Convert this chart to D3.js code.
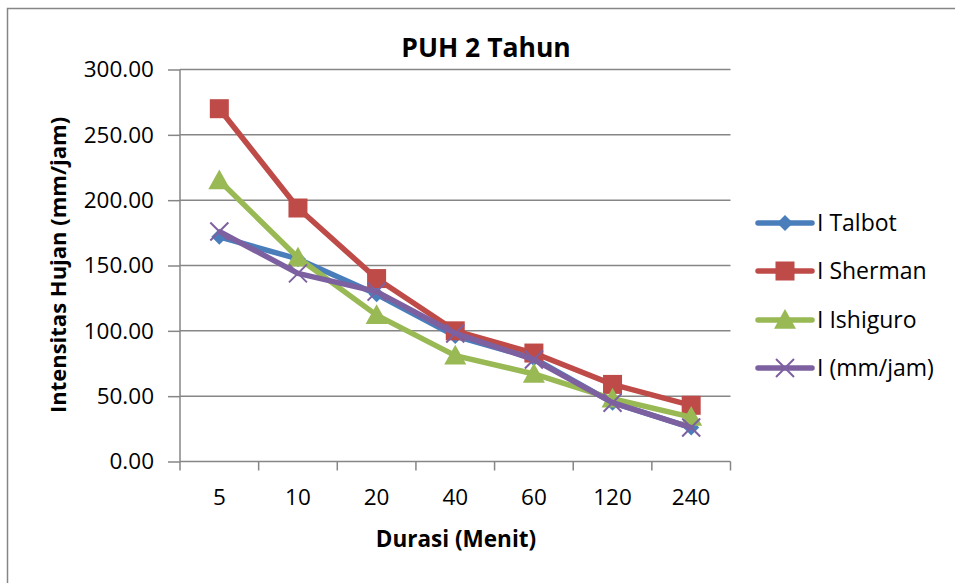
<!DOCTYPE html>
<html>
<head>
<meta charset="utf-8">
<script src="https://cdn.jsdelivr.net/npm/d3@7/dist/d3.min.js"></script>
<style>
  html, body { margin: 0; padding: 0; background: #fff; }
  svg { display: block; }
  text { font-family: "Open Sans", "Liberation Sans", sans-serif; fill: #000; }
</style>
</head>
<body>
<svg id="chart" width="955" height="583"></svg>
<script>
// Durasi (menit) categories
const durations = ["5", "10", "20", "40", "60", "120", "240"];

// Intensitas hujan (mm/jam) per method
const talbot   = [172, 155, 128, 96, 79, 45, 26];
const sherman  = [270, 194, 140, 100, 83, 59, 43];
const ishiguro = [215, 156, 112, 81, 67, 48, 34];
const observed = [176, 144, 130, 98, 78, 45, 26];

const seriesNames = ["I Talbot", "I Sherman", "I Ishiguro", "I (mm/jam)"];
const yTicks = [0, 50, 100, 150, 200, 250, 300];

const series = [
  { name: seriesNames[0], values: talbot,   color: "#4A7EBB", marker: "diamond" },
  { name: seriesNames[1], values: sherman,  color: "#BE4B48", marker: "square" },
  { name: seriesNames[2], values: ishiguro, color: "#98B954", marker: "triangle" },
  { name: seriesNames[3], values: observed, color: "#7D60A0", marker: "x" }
];

const svg = d3.select("#chart");
const W = 955, H = 583;
const plot = { left: 180, top: 69.5, right: 730.5, bottom: 461.5 };

// chart frame
svg.append("rect")
  .attr("x", 7.5).attr("y", 8.5)
  .attr("width", W + 10).attr("height", H + 10)
  .attr("fill", "#fff").attr("stroke", "#868686").attr("stroke-width", 1.5);

const x = d3.scaleBand().domain(durations).range([plot.left, plot.right]).padding(0);
const y = d3.scaleLinear().domain([0, 300]).range([plot.bottom, plot.top]);

// horizontal gridlines
svg.append("g").selectAll("line").data(yTicks.filter(d => d > 0)).join("line")
  .attr("x1", plot.left).attr("x2", plot.right)
  .attr("y1", d => y(d)).attr("y2", d => y(d))
  .attr("stroke", "#868686").attr("stroke-width", 1.5);

// y axis
const yAxis = svg.append("g").attr("transform", `translate(${plot.left},0)`)
  .call(d3.axisLeft(y).tickValues(yTicks).tickFormat(d3.format(".2f")).tickSize(12).tickPadding(14));
yAxis.select(".domain").attr("stroke", "#868686").attr("stroke-width", 1.5).attr("d", `M0,${plot.top}V${plot.bottom}`);
yAxis.selectAll(".tick line").attr("stroke", "#868686").attr("stroke-width", 1.5);
yAxis.selectAll(".tick text").style("font-size", "22.5px").style("font-family", "\"Open Sans\", sans-serif").attr("fill", "#000");

// x axis with tick marks on category boundaries
const xAxisG = svg.append("g").attr("transform", `translate(0,${plot.bottom})`);
xAxisG.append("line")
  .attr("x1", plot.left).attr("x2", plot.right)
  .attr("stroke", "#868686").attr("stroke-width", 1.5);
const boundaries = durations.map(d => x(d)).concat([x(durations[durations.length - 1]) + x.bandwidth()]);
xAxisG.selectAll("line.tk").data(boundaries).join("line").attr("class", "tk")
  .attr("x1", d => d).attr("x2", d => d).attr("y1", 0).attr("y2", 9)
  .attr("stroke", "#868686").attr("stroke-width", 1.5);
xAxisG.selectAll("text").data(durations).join("text")
  .attr("x", d => x(d) + x.bandwidth() / 2).attr("y", 43)
  .attr("text-anchor", "middle").style("font-size", "22.5px")
  .text(d => d);

// titles
svg.append("text").attr("x", 486).attr("y", 57).attr("text-anchor", "middle")
  .style("font-size", "26.5px").style("font-weight", "bold").text("PUH 2 Tahun");
svg.append("text").attr("x", 456).attr("y", 547).attr("text-anchor", "middle")
  .style("font-size", "22.5px").style("font-weight", "bold").text("Durasi (Menit)");
svg.append("text").attr("transform", "translate(66,265) rotate(-90)").attr("text-anchor", "middle")
  .style("font-size", "22px").style("font-weight", "bold").text("Intensitas Hujan (mm/jam)");

function drawMarker(g, type, color, cx, cy, scale = 1) {
  if (type === "diamond") {
    const r = 8 * scale;
    g.append("path").attr("d", `M${cx},${cy - r}L${cx + r},${cy}L${cx},${cy + r}L${cx - r},${cy}Z`).attr("fill", color);
  } else if (type === "square") {
    const s = 19 * scale;
    g.append("rect").attr("x", cx - s / 2).attr("y", cy - s / 2).attr("width", s).attr("height", s).attr("fill", color);
  } else if (type === "triangle") {
    const r = 11 * scale;
    g.append("path").attr("d", `M${cx},${cy - r}L${cx + r},${cy + r * 0.8}L${cx - r},${cy + r * 0.8}Z`).attr("fill", color);
  } else if (type === "x") {
    const r = 9 * scale;
    g.append("path").attr("d", `M${cx - r},${cy - r}L${cx + r},${cy + r}M${cx - r},${cy + r}L${cx + r},${cy - r}`)
      .attr("stroke", color).attr("stroke-width", 2).attr("fill", "none");
  }
}

const line = d3.line().x((d, i) => x(durations[i]) + x.bandwidth() / 2).y(d => y(d));

series.forEach(s => {
  const g = svg.append("g");
  g.append("path").datum(s.values).attr("d", line)
    .attr("fill", "none").attr("stroke", s.color).attr("stroke-width", 5.5)
    .attr("stroke-linejoin", "round");
  s.values.forEach((v, i) => drawMarker(g, s.marker, s.color, x(durations[i]) + x.bandwidth() / 2, y(v)));
});

// legend
const legendY = [223, 271, 320, 368];
series.forEach((s, i) => {
  const g = svg.append("g");
  g.append("line").attr("x1", 758).attr("x2", 812).attr("y1", legendY[i]).attr("y2", legendY[i])
    .attr("stroke", s.color).attr("stroke-width", 5.5).attr("stroke-linecap", "round");
  drawMarker(g, s.marker, s.color, 785, legendY[i]);
  g.append("text").attr("x", 817).attr("y", legendY[i] + 8).style("font-size", "23px").text(s.name);
});
</script>
</body>
</html>
